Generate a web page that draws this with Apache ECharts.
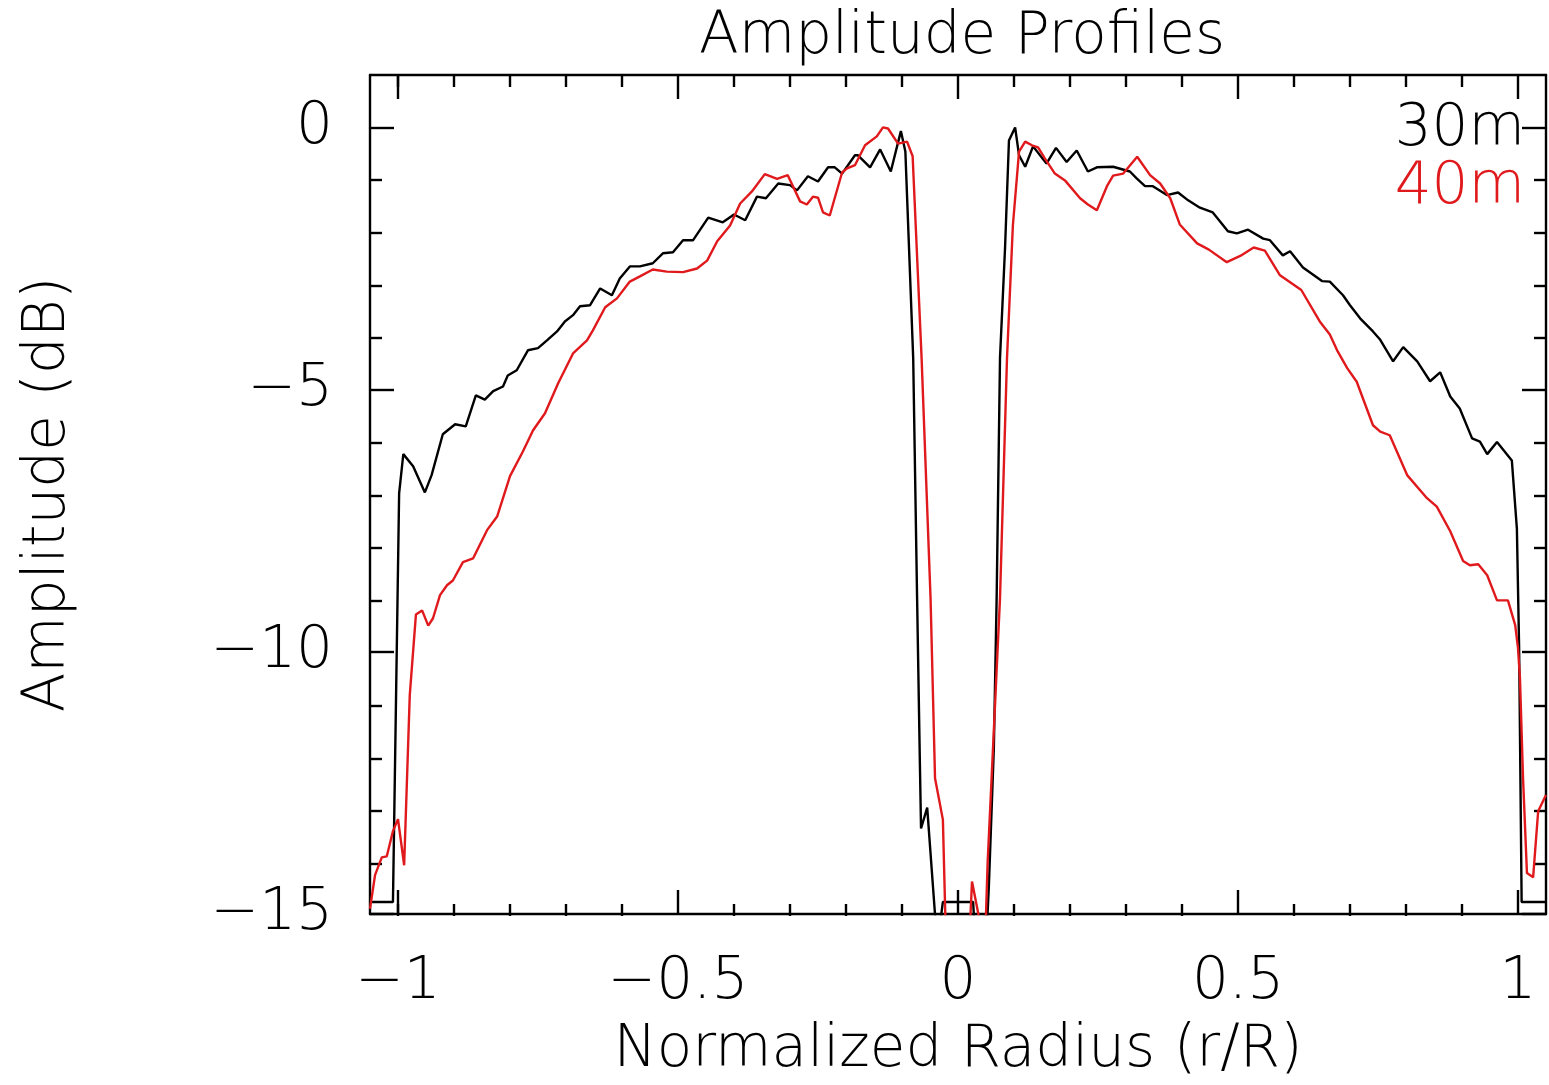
<!DOCTYPE html>
<html>
<head>
<meta charset="utf-8">
<script src="https://cdn.jsdelivr.net/npm/echarts@6/dist/echarts.min.js"></script>
<style>
html,body{margin:0;padding:0;background:#fff;}
#chart{width:1549px;height:1085px;}
</style>
</head>
<body>
<div id="chart"></div>
<script>
// ---- data ----
const x30 = [-1.05,-1.009,-0.998,-0.9905,-0.973,-0.952,-0.94,-0.92,-0.898,-0.879,-0.861,-0.845,-0.830,-0.8125,-0.804,-0.788,-0.768,-0.75,-0.734,-0.716,-0.702,-0.6875,-0.675,-0.657,-0.639,-0.618,-0.604,-0.586,-0.568,-0.545,-0.527,-0.509,-0.491,-0.473,-0.446,-0.42,-0.400,-0.380,-0.359,-0.343,-0.321,-0.300,-0.2875,-0.268,-0.25,-0.232,-0.22,-0.207,-0.184,-0.179,-0.157,-0.139,-0.12,-0.102,-0.094,-0.080,-0.073,-0.068,-0.066,-0.055,-0.037,-0.027,0.027,0.036,0.046,0.055,0.064,0.069,0.075,0.084,0.091,0.102,0.109,0.12,0.134,0.158,0.175,0.194,0.212,0.232,0.248,0.277,0.307,0.319,0.334,0.348,0.373,0.393,0.411,0.432,0.455,0.482,0.498,0.518,0.545,0.557,0.580,0.593,0.616,0.65,0.664,0.6875,0.70,0.718,0.741,0.754,0.777,0.795,0.82,0.843,0.861,0.879,0.896,0.918,0.932,0.945,0.9625,0.989,0.998,1.002,1.0065,1.05];
const y30 = [-14.77,-14.77,-6.98,-6.23,-6.46,-6.96,-6.63,-5.85,-5.66,-5.70,-5.11,-5.19,-5.03,-4.94,-4.73,-4.63,-4.25,-4.21,-4.06,-3.89,-3.70,-3.58,-3.41,-3.39,-3.07,-3.20,-2.88,-2.65,-2.65,-2.59,-2.40,-2.38,-2.15,-2.15,-1.72,-1.81,-1.66,-1.77,-1.32,-1.35,-1.07,-1.10,-1.20,-0.93,-1.03,-0.76,-0.76,-0.88,-0.53,-0.53,-0.76,-0.42,-0.84,-0.07,-0.46,-4.4,-9.0,-12.17,-13.37,-12.97,-15.6,-14.77,-14.77,-16.5,-16.5,-14.5,-11.84,-8.98,-4.4,-2.3,-0.25,0,-0.53,-0.75,-0.36,-0.69,-0.39,-0.66,-0.44,-0.84,-0.76,-0.75,-0.84,-0.97,-1.12,-1.12,-1.29,-1.24,-1.39,-1.53,-1.62,-1.98,-2.02,-1.95,-2.12,-2.15,-2.44,-2.36,-2.67,-2.93,-2.94,-3.2,-3.39,-3.64,-3.89,-4.05,-4.46,-4.19,-4.46,-4.84,-4.67,-5.13,-5.36,-5.93,-5.99,-6.23,-6.0,-6.35,-7.65,-9.93,-14.77,-14.77];

const x40 = [-1.05,-1.041,-1.029,-1.02,-1.009,-1.0,-0.989,-0.979,-0.968,-0.957,-0.946,-0.9375,-0.925,-0.9125,-0.902,-0.884,-0.866,-0.841,-0.823,-0.8,-0.777,-0.759,-0.7375,-0.714,-0.6875,-0.6625,-0.652,-0.630,-0.609,-0.586,-0.568,-0.545,-0.52,-0.491,-0.466,-0.448,-0.43,-0.407,-0.389,-0.368,-0.345,-0.323,-0.304,-0.282,-0.270,-0.259,-0.25,-0.241,-0.229,-0.207,-0.198,-0.184,-0.166,-0.145,-0.134,-0.125,-0.107,-0.091,-0.081,-0.065,-0.049,-0.041,-0.027,-0.018,-0.005,0.007,0.016,0.025,0.040,0.044,0.053,0.0625,0.075,0.0875,0.098,0.109,0.12,0.132,0.143,0.155,0.173,0.191,0.218,0.232,0.248,0.266,0.277,0.295,0.320,0.343,0.361,0.379,0.396,0.427,0.448,0.480,0.504,0.528,0.548,0.575,0.613,0.646,0.664,0.677,0.695,0.712,0.741,0.754,0.771,0.802,0.8375,0.855,0.879,0.902,0.914,0.929,0.945,0.9625,0.982,0.995,1.0,1.0035,1.009,1.016,1.027,1.036,1.05];
const y40 = [-14.9,-14.26,-13.92,-13.9,-13.42,-13.19,-14.07,-10.83,-9.29,-9.21,-9.5,-9.36,-8.92,-8.73,-8.64,-8.29,-8.22,-7.68,-7.42,-6.65,-6.18,-5.78,-5.45,-4.88,-4.31,-4.06,-3.87,-3.43,-3.26,-2.94,-2.84,-2.71,-2.75,-2.76,-2.69,-2.54,-2.17,-1.87,-1.45,-1.22,-0.89,-0.98,-0.91,-1.41,-1.47,-1.32,-1.34,-1.62,-1.68,-0.86,-0.78,-0.72,-0.34,-0.17,0,-0.02,-0.31,-0.27,-0.55,-4.4,-8.98,-12.41,-13.2,-17,-18,-18,-16.5,-14.38,-15.2,-17,-14.0,-11.84,-8.98,-4.4,-1.87,-0.46,-0.27,-0.34,-0.38,-0.59,-0.88,-1.01,-1.35,-1.47,-1.58,-1.12,-0.92,-0.88,-0.56,-0.91,-1.07,-1.35,-1.85,-2.21,-2.33,-2.57,-2.45,-2.29,-2.35,-2.82,-3.1,-3.70,-3.95,-4.25,-4.59,-4.85,-5.68,-5.80,-5.87,-6.63,-7.07,-7.23,-7.70,-8.27,-8.35,-8.33,-8.54,-9.02,-9.02,-9.49,-9.93,-10.5,-12.41,-14.22,-14.30,-13.04,-12.73];

const seriesNames = ['30m', '40m'];
const seriesColors = ['#000000', '#e0191c'];
const xMajor = [-1, -0.5, 0, 0.5, 1];
const xMinor = [-1.0,-0.9,-0.8,-0.7,-0.6,-0.4,-0.3,-0.2,-0.1,0.1,0.2,0.3,0.4,0.6,0.7,0.8,0.9];
const yMajor = [-15, -10, -5, 0];
const yMinor = [-14,-13,-12,-11,-9,-8,-7,-6,-4,-3,-2,-1];
const xRange = [-1.05, 1.05];
const yRange = [-15, 1];
const titleText = 'Amplitude Profiles';
const xTitle = 'Normalized Radius (r/R)';
const yTitle = 'Amplitude (dB)';

// ---- chart ----
const FONT = '"DejaVu Sans", sans-serif';
const FW = 200;
const LW = 2.4;
const fmt = v => String(v).replace('-', '\u2212');
const gridPos = { left: 370, right: 3, top: 75, bottom: 169 };

function xAx(gi, pos, vals, len, opts) {
  return Object.assign({
    type: 'value', gridIndex: gi, position: pos, min: xRange[0], max: xRange[1],
    axisLine: { show: gi === 0, onZero: false, lineStyle: { color: '#000', width: LW } },
    axisTick: { show: true, inside: true, length: len, customValues: vals, lineStyle: { color: '#000', width: LW } },
    axisLabel: { show: false },
    splitLine: { show: false }
  }, opts || {});
}
function yAx(gi, pos, vals, len, opts) {
  return Object.assign({
    type: 'value', gridIndex: gi, position: pos, min: yRange[0], max: yRange[1],
    axisLine: { show: gi === 0, onZero: false, lineStyle: { color: '#000', width: LW } },
    axisTick: { show: true, inside: true, length: len, customValues: vals, lineStyle: { color: '#000', width: LW } },
    axisLabel: { show: false },
    splitLine: { show: false }
  }, opts || {});
}

const chart = echarts.init(document.getElementById('chart'), null, { renderer: 'canvas' });
chart.setOption({
  backgroundColor: '#fff',
  animation: false,
  title: {
    text: titleText, left: 694, top: 4,
    textStyle: { fontFamily: FONT, fontWeight: FW, fontSize: 58, color: '#000' }
  },
  legend: {
    right: 14, top: 96, orient: 'vertical', align: 'right',
    icon: 'none', itemWidth: 0, itemHeight: 10, itemGap: 0,
    selectedMode: false,
    data: seriesNames.map((n, i) => ({ name: n, textStyle: { color: seriesColors[i] } })),
    textStyle: { fontFamily: FONT, fontWeight: FW, fontSize: 58, lineHeight: 52 }
  },
  grid: [
    Object.assign({ containLabel: false }, gridPos),
    Object.assign({ containLabel: false }, gridPos)
  ],
  xAxis: [
    xAx(0, 'bottom', xMajor, 24, {
      axisLabel: { show: true, customValues: xMajor, formatter: fmt, margin: 40,
        fontFamily: FONT, fontWeight: FW, fontSize: 58, color: '#000' },
      name: xTitle, nameLocation: 'middle', nameGap: 108,
      nameTextStyle: { fontFamily: FONT, fontWeight: FW, fontSize: 58, color: '#000' }
    }),
    xAx(0, 'top', xMajor, 24),
    xAx(1, 'bottom', xMinor, 12),
    xAx(1, 'top', xMinor, 12)
  ],
  yAxis: [
    yAx(0, 'left', yMajor, 24, {
      axisLabel: { show: true, customValues: yMajor, formatter: fmt, margin: 37,
        fontFamily: FONT, fontWeight: FW, fontSize: 58, color: '#000' },
      name: yTitle, nameLocation: 'middle', nameGap: 292, nameRotate: 90,
      nameTextStyle: { fontFamily: FONT, fontWeight: FW, fontSize: 58, color: '#000' }
    }),
    yAx(0, 'right', yMajor, 24),
    yAx(1, 'left', yMinor, 12),
    yAx(1, 'right', yMinor, 12)
  ],
  series: [
    { name: seriesNames[0], type: 'line', xAxisIndex: 0, yAxisIndex: 0, clip: true,
      showSymbol: false, symbol: 'none', color: seriesColors[0],
      lineStyle: { color: seriesColors[0], width: LW },
      data: x30.map((x, i) => [x, y30[i]]) },
    { name: seriesNames[1], type: 'line', xAxisIndex: 0, yAxisIndex: 0, clip: true,
      showSymbol: false, symbol: 'none', color: seriesColors[1],
      lineStyle: { color: seriesColors[1], width: LW },
      data: x40.map((x, i) => [x, y40[i]]) }
  ]
});
</script>
</body>
</html>
